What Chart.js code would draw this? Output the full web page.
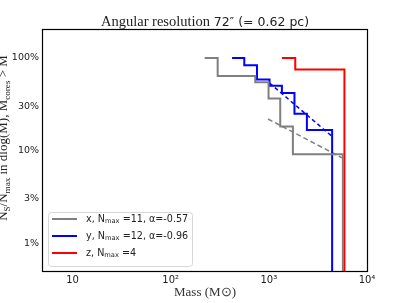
<!DOCTYPE html>
<html>
<head>
<meta charset="utf-8">
<script src="https://cdn.jsdelivr.net/npm/chart.js@4/dist/chart.umd.min.js"></script>
<style>
  body { margin: 0; background: #fff; }
  #wrap { width: 407px; height: 303px; position: relative; }
</style>
</head>
<body>
<div id="wrap"><canvas id="massChart"></canvas></div>
<script>
// step curves: mass where each level starts, and the level (fraction of N_max)
const xMass = [222, 301, 727, 993, 1306, 1758, 5680];
const xLevel = [1, 7 / 11, 6 / 11, 4 / 11, 2 / 11, 1 / 11, 0.001];
const yMass = [422, 562, 757, 1016, 1358, 1824, 2441, 4413];
const yLevel = [1, 10 / 12, 7 / 12, 6 / 12, 5 / 12, 3 / 12, 2 / 12, 0.001];
const zMass = [1358, 1858, 5890];
const zLevel = [1, 0.75, 0.001];

// power-law fits (dashed)
const xFitMass = [980, 5550];
const xFitLevel = [0.219, 0.0835];
const yFitMass = [1016, 4385];
const yFitLevel = [0.535, 0.1425];

const legendLabels = ['x, N_{max} =11, \u03b1=-0.57', 'y, N_{max} =12, \u03b1=-0.96', 'z, N_{max} =4'];

const xTickValues = [10, 100, 1000, 10000];
const xTickLabels = ['10', '10\u00b2', '10\u00b3', '10\u2074'];
const yTickValues = [0.01, 0.03, 0.1, 0.3, 1];
const yTickLabels = ['1%', '3%', '10%', '30%', '100%'];

const titleSerif = 'Angular resolution ';
const titleSans = '72\u2033 (= 0.62 pc)';
const xTitle = 'Mass (M\u2299)';
const yTitle = 'N_{S}/N_{max} in dlog(M), M_{cores} > M';

function toPoints(xs, ys) {
  return xs.map((x, i) => ({ x: x, y: ys[i] }));
}

// text where _{...} parts become subscripts
function richWidth(ctx, text, size, family) {
  let w = 0;
  text.split(/(_\{[^}]*\})/).forEach(part => {
    if (!part) return;
    if (part.startsWith('_{')) {
      ctx.font = `${size * 0.7}px ${family}`;
      w += ctx.measureText(part.slice(2, -1)).width;
    } else {
      ctx.font = `${size}px ${family}`;
      w += ctx.measureText(part).width;
    }
  });
  return w;
}

function drawRich(ctx, text, x, y, size, family) {
  let cx = x;
  text.split(/(_\{[^}]*\})/).forEach(part => {
    if (!part) return;
    if (part.startsWith('_{')) {
      const t = part.slice(2, -1);
      ctx.font = `${size * 0.7}px ${family}`;
      ctx.fillText(t, cx, y + size * 0.22);
      cx += ctx.measureText(t).width;
    } else {
      ctx.font = `${size}px ${family}`;
      ctx.fillText(part, cx, y);
      cx += ctx.measureText(part).width;
    }
  });
}

const framePlugin = {
  id: 'frame',
  afterDraw(chart) {
    const { ctx, chartArea } = chart;
    ctx.save();
    ctx.strokeStyle = '#000';
    ctx.lineWidth = 1.2;
    ctx.strokeRect(chartArea.left - 0.5, chartArea.top - 0.5,
      chartArea.right - chartArea.left + 1, chartArea.bottom - chartArea.top + 1);

    // title, serif + sans like the original
    ctx.fillStyle = '#222';
    ctx.textBaseline = 'alphabetic';
    ctx.textAlign = 'left';
    ctx.font = '14.5px "Liberation Serif", serif';
    const w1 = ctx.measureText(titleSerif).width;
    ctx.font = '12.5px "DejaVu Sans", sans-serif';
    const w2 = ctx.measureText(titleSans).width;
    const tx = 205 - (w1 + w2) / 2;
    ctx.font = '14.5px "Liberation Serif", serif';
    ctx.fillText(titleSerif, tx, 26);
    ctx.font = '12.5px "DejaVu Sans", sans-serif';
    ctx.fillText(titleSans, tx + w1, 26);

    // y axis label, rotated (partly cut at the edge in the original)
    const fam = '"Liberation Serif", serif';
    const w = richWidth(ctx, yTitle, 13, fam);
    ctx.translate(7, 138);
    ctx.rotate(-Math.PI / 2);
    drawRich(ctx, yTitle, -w / 2, 0, 13, fam);
    ctx.restore();

    // legend box in lower left
    ctx.save();
    const bx = 48, by = 212, bw = 144, bh = 54;
    ctx.fillStyle = 'rgba(255,255,255,0.8)';
    ctx.strokeStyle = '#d6d6d6';
    ctx.lineWidth = 1;
    ctx.beginPath();
    ctx.roundRect(bx + 0.5, by + 0.5, bw, bh, 3);
    ctx.fill();
    ctx.stroke();
    const entries = chart.data.datasets.filter(d => d.legendIndex !== undefined);
    entries.forEach(d => {
      const ry = by + 7 + d.legendIndex * 17;
      ctx.strokeStyle = d.borderColor;
      ctx.lineWidth = 2;
      ctx.beginPath();
      ctx.moveTo(52, ry);
      ctx.lineTo(77, ry);
      ctx.stroke();
      ctx.fillStyle = '#222';
      ctx.textBaseline = 'middle';
      drawRich(ctx, legendLabels[d.legendIndex], 86, ry, 9.6, '"DejaVu Sans", sans-serif');
    });
    ctx.restore();
  }
};

const ctx = document.getElementById('massChart').getContext('2d');

new Chart(ctx, {
  type: 'line',
  data: {
    datasets: [
      {
        data: toPoints(xMass, xLevel),
        borderColor: '#808080',
        borderWidth: 2,
        stepped: 'before',
        legendIndex: 0
      },
      {
        data: toPoints(yMass, yLevel),
        borderColor: '#0000ff',
        borderWidth: 2,
        stepped: 'before',
        legendIndex: 1
      },
      {
        data: toPoints(zMass, zLevel),
        borderColor: '#ff0000',
        borderWidth: 2,
        stepped: 'before',
        legendIndex: 2
      },
      {
        data: toPoints(xFitMass, xFitLevel),
        borderColor: '#808080',
        borderWidth: 1.5,
        borderDash: [5, 3]
      },
      {
        data: toPoints(yFitMass, yFitLevel),
        borderColor: '#0000ff',
        borderWidth: 1.5,
        borderDash: [4, 3]
      }
    ]
  },
  options: {
    responsive: true,
    maintainAspectRatio: false,
    animation: false,
    elements: { point: { radius: 0 }, line: { tension: 0, fill: false } },
    layout: { padding: { left: 0, right: 40, top: 30, bottom: 0 } },
    scales: {
      x: {
        type: 'logarithmic',
        min: 5,
        max: 10000,
        grid: { display: false, drawTicks: false, tickLength: 0 },
        border: { display: false },
        afterBuildTicks: scale => { scale.ticks = xTickValues.map(v => ({ value: v })); },
        afterFit: scale => { scale.height = 32; },
        ticks: {
          autoSkip: false,
          maxRotation: 0,
          padding: 3,
          color: '#222',
          font: { family: '"DejaVu Sans", sans-serif', size: 10 },
          callback: value => xTickLabels[xTickValues.indexOf(value)]
        },
        title: {
          display: true,
          text: xTitle,
          color: '#333',
          font: { family: '"Liberation Serif", serif', size: 13 },
          padding: { top: 0, bottom: 3 }
        }
      },
      y: {
        type: 'logarithmic',
        min: 0.005,
        max: 2,
        grid: { display: false, drawTicks: false, tickLength: 0 },
        border: { display: false },
        afterBuildTicks: scale => { scale.ticks = yTickValues.map(v => ({ value: v })); },
        afterFit: scale => { scale.width = 43; },
        ticks: {
          autoSkip: false,
          padding: 4,
          color: '#222',
          font: { family: '"DejaVu Sans", sans-serif', size: 9.5 },
          callback: value => yTickLabels[yTickValues.indexOf(value)]
        }
      }
    },
    plugins: {
      legend: { display: false },
      tooltip: { enabled: false },
      title: { display: false }
    }
  },
  plugins: [framePlugin]
});
</script>
</body>
</html>
